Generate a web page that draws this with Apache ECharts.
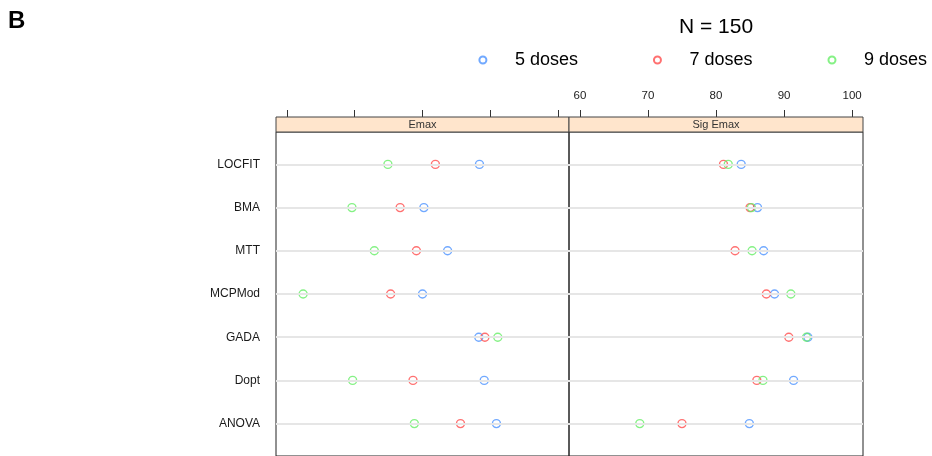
<!DOCTYPE html>
<html>
<head>
<meta charset="utf-8">
<script src="https://cdn.jsdelivr.net/npm/echarts@6/dist/echarts.min.js"></script>
<style>
html,body{margin:0;padding:0;background:#fff;}
#chart{width:932px;height:456px;}
</style>
</head>
<body>
<div id="chart"></div>
<script>
// Data (categories listed top to bottom)
const categories = ['LOCFIT', 'BMA', 'MTT', 'MCPMod', 'GADA', 'Dopt', 'ANOVA'];
const panels = ['Emax', 'Sig Emax'];
const seriesNames = ['5 doses', '7 doses', '9 doses'];
const xTicks = [60, 70, 80, 90, 100];

const emax5 = [88.4, 80.2, 83.7, 80.0, 88.3, 89.1, 90.9];
const emax7 = [81.9, 76.7, 79.1, 75.3, 89.2, 78.6, 85.6];
const emax9 = [74.9, 69.6, 72.9, 62.4, 91.1, 69.7, 78.8];

const sig5 = [83.7, 86.1, 87.0, 88.6, 93.5, 91.4, 84.9];
const sig7 = [81.1, 85.0, 82.8, 87.4, 90.7, 86.0, 75.0];
const sig9 = [81.8, 85.2, 85.3, 91.0, 93.3, 86.9, 68.8];

const title = 'N = 150';
const panelLetter = 'B';

// ---- build options ----
const FONT = 'Liberation Sans, Arial, sans-serif';
const colors = ['#4d94ff', '#ff4d4d', '#66ee66'];
const panelData = [[emax5, emax7, emax9], [sig5, sig7, sig9]];
const nCat = categories.length;
const yPos = i => nCat - i; // top category has largest position

const gridTop = 132, gridHeight = 326;
const grids = [
  {left: 276, top: gridTop, width: 293, height: gridHeight},
  {left: 569, top: gridTop, width: 294, height: gridHeight}
];

const xAxes = grids.map((g, k) => ({
  type: 'value', gridIndex: k, position: 'top', offset: 15,
  min: 58.4, max: 101.6,
  axisLine: {show: false},
  axisTick: {show: true, inside: false, length: 7, customValues: xTicks,
             lineStyle: {color: '#333', width: 1}},
  axisLabel: {show: k === 1, customValues: xTicks, margin: 15,
              fontSize: 11.5, color: '#222', fontFamily: FONT},
  splitLine: {show: false}
}));

const yAxes = grids.map((g, k) => ({
  type: 'value', gridIndex: k, min: 0.25, max: nCat + 0.75,
  axisLine: {show: false},
  axisTick: {show: false, customValues: categories.map((c, i) => yPos(i))},
  axisLabel: {show: k === 0, customValues: categories.map((c, i) => yPos(i)),
              margin: 16, fontSize: 12, color: '#1a1a1a', fontFamily: FONT,
              padding: [2, 0, 0, 0],
              formatter: v => categories[nCat - Math.round(v)]},
  splitLine: {show: false}
}));

const series = [];
grids.forEach((g, k) => {
  // reference lines
  series.push({
    type: 'line', xAxisIndex: k, yAxisIndex: k, data: [], z: 1, silent: true,
    markLine: {
      silent: true, symbol: 'none', animation: false,
      label: {show: false},
      lineStyle: {color: '#e6e6e6', width: 2, type: 'solid'},
      emphasis: {disabled: true},
      data: categories.map((c, i) => ({yAxis: yPos(i)}))
    }
  });
  seriesNames.forEach((name, s) => {
    series.push({
      type: 'scatter', name: name, xAxisIndex: k, yAxisIndex: k, z: 3,
      symbol: 'circle', symbolSize: 8,
      itemStyle: {color: 'rgba(255,255,255,0)', borderColor: colors[s], borderWidth: 1.4},
      emphasis: {disabled: true},
      data: panelData[k][s].map((v, i) => [v, yPos(i)])
    });
  });
});

const graphics = [
  {type: 'text', left: 8, top: 9, style: {text: panelLetter, font: 'bold 24px ' + FONT, fill: '#000'}},
  {type: 'text', x: 716, y: 27, style: {text: title, font: '21px ' + FONT, fill: '#000',
    textAlign: 'center', textVerticalAlign: 'middle'}}
];
grids.forEach((g, k) => {
  graphics.push({type: 'rect', shape: {x: g.left, y: gridTop - 15, width: g.width, height: 15},
    style: {fill: '#ffe5cc', stroke: '#444', lineWidth: 1}, z: 10});
  graphics.push({type: 'text', x: g.left + g.width / 2, y: gridTop - 7.5,
    style: {text: panels[k], font: '11px ' + FONT, fill: '#333', textAlign: 'center', textVerticalAlign: 'middle'}, z: 11});
});

const option = {
  animation: false,
  backgroundColor: '#fff',
  grid: grids.map(g => Object.assign({show: true, borderColor: '#222', borderWidth: 1, backgroundColor: 'transparent'}, g)),
  xAxis: xAxes,
  yAxis: yAxes,
  legend: {
    data: seriesNames, left: 478.4, top: 51, padding: 0,
    itemWidth: 54, itemHeight: 7, itemGap: 75,
    textStyle: {fontSize: 18, color: '#000', fontFamily: FONT},
    selectedMode: false
  },
  graphic: graphics,
  series: series
};

const chart = echarts.init(document.getElementById('chart'), null, {renderer: 'canvas'});
chart.setOption(option);
</script>
</body>
</html>
